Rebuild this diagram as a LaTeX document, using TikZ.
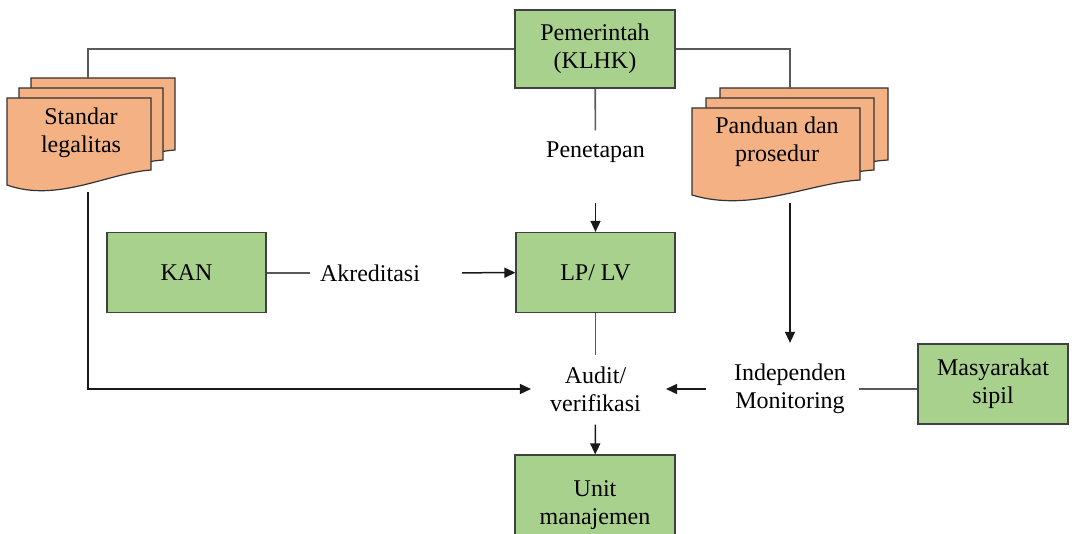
\documentclass[tikz,border=0pt]{standalone}
\usepackage{fontspec}
\setmainfont{Liberation Serif}
\usetikzlibrary{arrows.meta}
\usepackage{xcolor}

\definecolor{boxgreen}{HTML}{A9D18E}
\definecolor{docorange}{HTML}{F4B183}

\tikzset{
  txt/.style={font=\fontsize{24}{28}\selectfont, align=center, inner sep=0pt},
  box/.style={txt, draw=black!75, line width=1.2pt, fill=boxgreen, minimum width=159pt, minimum height=80pt},
  lbl/.style={txt},
  docpage/.style={draw=black!80, line width=1.2pt, fill=docorange},
  line/.style={draw=black!65, line width=1.6pt},
  arr/.style={draw=black!90, line width=1.5pt, -{Triangle[length=11pt,width=10pt]}},
}

% one page of a document stack: left, top, width
\newcommand{\docpage}[3]{%
  \filldraw[docpage] (#1,#2) -- ({#1+#3},#2) -- ({#1+#3},{#2+72})
    .. controls ({#1+0.7*#3},{#2+75}) and ({#1+0.35*#3},{#2+105}) .. (#1,{#2+87}) -- cycle;
}
% three pages: left, top, width, offset
\newcommand{\docstack}[4]{%
  \docpage{#1+2*#4}{#2-20}{#3}
  \docpage{#1+#4}{#2-10}{#3}
  \docpage{#1}{#2}{#3}
}

\begin{document}
\begin{tikzpicture}[x=1pt, y=-1pt]
  \useasboundingbox (0,0) rectangle (1076,534);

  % document stacks
  \docstack{7}{98}{144}{12}
  \docstack{692}{108}{168}{14}
  \node[lbl] (std) at (81,133) {Standar\\legalitas};
  \node[lbl] (pan) at (777,142) {Panduan dan\\prosedur};
  \coordinate (stdtop) at (88,79);
  \coordinate (stdbot) at (88,192);
  \coordinate (pantop) at (790,89);
  \coordinate (panbot) at (790,203);

  % boxes
  \node[box, minimum width=160pt, minimum height=78pt] (pem) at (595,49) {Pemerintah\\(KLHK)};
  \node[box] (kan) at (186.5,272.5) {KAN};
  \node[box] (lplv) at (595.5,272.5) {LP/ LV};
  \node[box, minimum width=160pt, minimum height=100pt] (unit) at (595,505) {Unit\\manajemen};
  \node[box, minimum width=150pt] (mas) at (993,384) {Masyarakat\\sipil};

  % labels
  \node[lbl] (pen) at (595.5,152) {Penetapan};
  \node[lbl] (akr) at (370,273) {Akreditasi};
  \node[lbl] (aud) at (595.5,389) {Audit/\\verifikasi};
  \node[lbl] (ind) at (790,389) {Independen\\Monitoring};

  % connectors
  \draw[line] (pem.west) -| (stdtop);
  \draw[line] (pem.east) -| (pantop);
  \draw[line, shorten >=11pt] (pem) -- (pen);
  \draw[arr, shorten <=40pt] (pen) -- (lplv);
  \draw[line, shorten >=10pt] (kan.east |- akr.west) -- (akr.west);
  \draw[arr, shorten <=42pt] (akr) -- (lplv);
  \draw[line, shorten >=11pt] (lplv) -- (aud);
  \draw[arr, shorten <=13pt] (aud) -- (unit);
  \draw[arr, shorten >=19pt] (stdbot) |- (aud);
  \draw[arr, shorten <=28pt, shorten >=25pt] (ind) -- (aud);
  \draw[arr, shorten >=21pt] (panbot) -- (ind);
  \draw[line, shorten >=13pt] (mas.west |- ind.east) -- (ind.east);
\end{tikzpicture}
\end{document}
